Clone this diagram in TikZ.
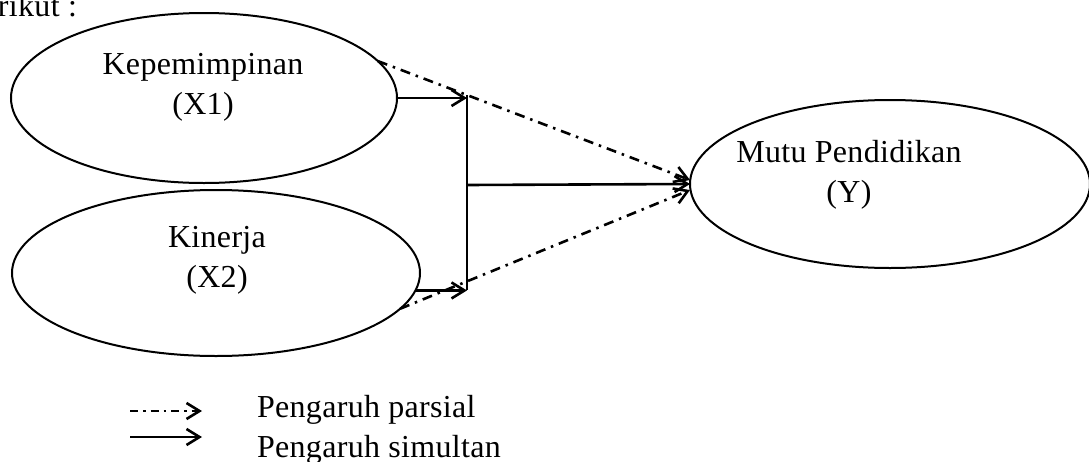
\documentclass[tikz,border=0pt]{standalone}
\usepackage{fontspec}
\setmainfont{Liberation Serif}[LetterSpace=1]
\usetikzlibrary{shapes.geometric,arrows.meta}
\begin{document}
\begin{tikzpicture}[x=1pt,y=-1pt,
  every node/.style={inner sep=0pt,outer sep=0pt},
  varell/.style={draw,ellipse,line width=2pt},
  lbl/.style={font=\fontsize{32}{40}\selectfont,align=center},
  tip/.style={-{Straight Barb[length=13pt,width=16pt,line width=2.6pt]}},
  simul/.style={line width=2.6pt,tip},
  parsial/.style={line width=2.6pt,tip,dash pattern=on 10pt off 6pt on 2.5pt off 6pt},
  plain/.style={line width=2.4pt}]
\useasboundingbox (0,0) rectangle (1089,461);
% title fragment
\node[anchor=base west,font=\fontsize{32}{36}\selectfont] (intro) at (-2,16) {rikut :};
% ellipses
\node[varell,minimum width=386pt,minimum height=170pt] (x1) at (204,98) {};
\node[varell,minimum width=408pt,minimum height=166pt] (x2) at (216,273) {};
\node[varell,minimum width=400pt,minimum height=168pt] (y) at (890,184) {};
% labels
\node[lbl] (tx1) at (203,87) {Kepemimpinan\\(X1)};
\node[lbl] (tx2) at (217,260) {Kinerja\\(X2)};
\node[lbl] (ty) at (849,175) {Mutu Pendidikan\\(Y)};
% junction line
\coordinate (j1) at (467,98);
\coordinate (jm) at (467,185);
\coordinate (j2) at (x2.-5.8 -| j1);
\coordinate (jtop) at (467,95);
\draw[plain] (jtop) -- (j2);
% simultaneous arrows
\draw[simul] (x1.east |- j1) -- (j1);
\draw[simul] (x2.-5.8) -- (j2);
\draw[simul] (jm) -- (y.west);
% partial arrows
\draw[parsial] (x1.12) -- ([yshift=4pt]y.west);
\draw[parsial] (x2.-11.5) -- ([yshift=-6pt]y.west);
% legend
\coordinate (l1a) at (130,411);
\coordinate (l1b) at (202,411);
\coordinate (l2a) at (130,437);
\coordinate (l2b) at (202,437);
\draw[parsial,dash pattern=on 8pt off 5pt on 2.5pt off 5pt] (l1a) -- (l1b);
\draw[simul] (l2a) -- (l2b);
\node[anchor=base west,font=\fontsize{32}{36}\selectfont] (lg1) at (257,417) {Pengaruh parsial};
\node[anchor=base west,font=\fontsize{32}{36}\selectfont] (lg2) at (257,457) {Pengaruh simultan};
\end{tikzpicture}
\end{document}
